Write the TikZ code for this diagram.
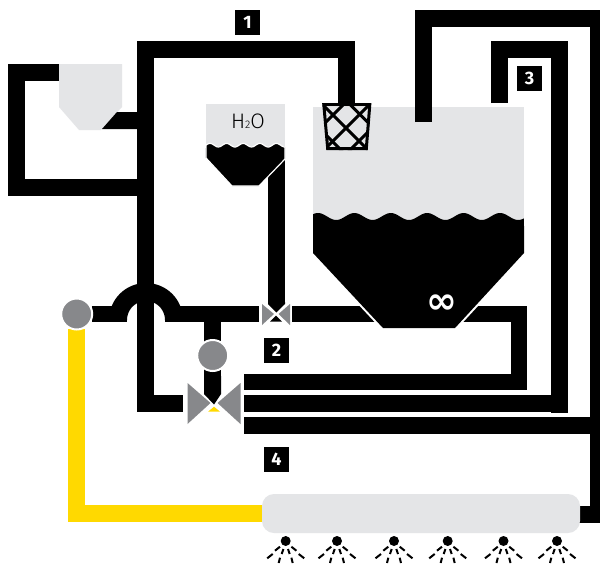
\documentclass[tikz,border=0pt]{standalone}
\usepackage{fontspec}
\setmainfont{Fira Sans}
\newfontfamily\lightfont{Fira Sans Light}
\newfontfamily\symfont{DejaVu Sans}
\definecolor{tankgrey}{HTML}{E4E5E7}
\definecolor{valvegrey}{HTML}{87888B}
\definecolor{feedyellow}{HTML}{FFD900}
\tikzset{
  pipe/.style={draw=black,line width=17pt,miter limit=10},
  thinpipe/.style={draw=black,line width=15.5pt},
  yellowpipe/.style={draw=feedyellow,line width=17pt},
  numbox/.style={fill=black,text=white,minimum size=25pt,inner sep=0pt,font=\fontsize{18}{18}\selectfont\bfseries},
  pump/.style={circle,fill=valvegrey,draw=white,line width=2pt,minimum size=31pt,inner sep=0pt},
  valvepart/.style={fill=valvegrey},
  spray/.style={line width=2pt,draw=black},
  lattice/.style={line width=3pt,draw=black}
}
\newcommand{\nozzle}[1]{%
  \fill (#1,541) circle[radius=5pt];
  \foreach \s in {-1,1}{
    \draw[spray] ({#1+\s*5.7},546.7) -- ({#1+\s*10.7},550.7);
    \draw[spray] ({#1+\s*13},554) -- ({#1+\s*18.5},558.3);
    \draw[spray] ({#1+\s*2.3},549) -- ({#1+\s*4},554);
    \draw[spray] ({#1+\s*5.7},557.7) -- ({#1+\s*7},563);
  }}
\begin{document}
\begin{tikzpicture}[x=1pt,y=-1pt]
\useasboundingbox (0,0) rectangle (600,563);
\clip (0,0) rectangle (600,563);
\fill[white] (0,0) rectangle (600,563);

% main tank, grey part
\fill[tankgrey] (313,107) rectangle (524,225);
% hopper
\fill[tankgrey] (59,64) -- (122,64) -- (122,107) -- (101,130) -- (79,130) -- (59,107) -- cycle;
% water tank, grey part
\fill[tankgrey] (206,104) rectangle (285,150);

% pipes
\draw[pipe] (59,72.5) -- (16.5,72.5) -- (16.5,187.5) -- (145.5,187.5);
\fill (117,112) -- (140,112) -- (140,129) -- (102,129) -- cycle;
\draw[pipe] (346,104) -- (346,49.5) -- (145.5,49.5) -- (145.5,403.5) -- (183,403.5);
\draw[pipe] (423.5,122) -- (423.5,18.5) -- (598.5,18.5) -- (598.5,514.5) -- (575,514.5);
\draw[pipe] (499.5,103) -- (499.5,49.5) -- (559.5,49.5) -- (559.5,412.5);
\draw[pipe] (244,403.5) -- (559,403.5);
\draw[pipe] (244,425.5) -- (600,425.5);
\draw[pipe] (276.5,150) -- (276.5,304) ;
\fill (268,302) -- (285,302) -- (285,304) -- (276.3,312.5) -- (268,304) -- cycle;
\fill (276,315.5) -- (282,321.7) -- (270,321.7) -- cycle;
\draw[thinpipe] (91.5,314) -- (127,314);
\draw[thinpipe] (165,314) -- (259,314);
\draw[thinpipe] (292,314) -- (375,314);
\draw[line width=16pt] (450,314) -- (518.5,314) -- (518.5,382) -- (244,382);
\draw[line width=18pt] plot[domain=0:180,samples=50] ({146+28*cos(\x)},{320-28*sin(\x)});
\fill[white] (100,322) rectangle (130,330);
\fill[white] (162,322) rectangle (190,330);
\fill (137,320) rectangle (154,340);

% water tank, liquid
\fill[draw=white,line width=1.2pt,fill=black] (206,158) -- plot[domain=206:285,samples=60] (\x,{145.2-1.8*cos((\x-210)/16.6*360)}) -- (285,159) -- (259,186) -- (232,186) -- cycle;
\fill[tankgrey] (205.4,147.5) rectangle (206,158);
% main tank, liquid
\draw[white,line width=4pt] (310,250) -- (383,328) -- (455,328) -- (527,250);
\fill (313,253) -- plot[domain=313:524,samples=120] (\x,{216.5-3.5*cos((\x-318)/36.4*360)}) -- (524,253) -- (455,328) -- (383,328) -- cycle;
\fill[white] (300,200) rectangle (312.9,225);
\fill[white] (524.1,200) rectangle (540,226);

% feed to the ring of the second pump
\draw[line width=17pt] (212.5,321) -- (212.5,380);
\fill (204,376) -- (221,376) -- (221,394) -- (214,404.5) -- (204,394) -- cycle;

% yellow line
\draw[yellowpipe] (76.5,329) -- (76.5,513.5) -- (265,513.5);

% spray bar
\fill[tankgrey,rounded corners=12pt] (262,494) rectangle (580,533);

% pumps
\node[pump] (pumpA) at (76.7,314) {};
\node[pump] (pumpB) at (212.7,355.5) {};

% small valve
\fill[valvepart] (262,304) -- (274,314) -- (262,325) -- cycle;
\fill[valvepart] (290,304) -- (278.5,314) -- (290,325) -- cycle;
% big valve
\fill[valvepart] (187.5,383) -- (210.5,403) -- (187.5,424) -- cycle;
\fill[valvepart] (240.5,383) -- (217.5,403) -- (240.5,424) -- cycle;
\fill[feedyellow] (208,411.7) -- (214,406.7) -- (220,411.7) -- cycle;

% basket
\begin{scope}
\clip (322.5,103) -- (371,103) -- (367.5,150) -- (326.5,150) -- cycle;
\foreach \c in {191,218,245.5}{\draw[lattice] (300,{300-\c}) -- (400,{400-\c});}
\foreach \c in {448,474,500}{\draw[lattice] (300,{\c-300}) -- (400,{\c-400});}
\end{scope}
\draw[line width=3pt,line join=miter] (323.8,104.5) -- (369.8,104.5) -- (366.3,148.7) -- (327.7,148.7) -- cycle;

% texts
\node (water) at (248,121) {\lightfont\fontsize{21}{21}\selectfont H\raisebox{-0.5pt}{\fontsize{11}{11}\selectfont 2}O};
\node[text=white,inner sep=0pt] (inf) at (441.5,304) {\symfont\bfseries\fontsize{37}{37}\selectfont ∞};
\node[numbox] (n1) at (247.5,22.5) {1};
\node[numbox] (n3) at (529.5,78.5) {3};
\node[numbox] (n2) at (276.5,350.5) {2};
\node[numbox] (n4) at (276.5,459.5) {4};

% nozzles
\nozzle{285.7}
\nozzle{337}
\nozzle{394}
\nozzle{447.7}
\nozzle{503.5}
\nozzle{557}
\end{tikzpicture}
\end{document}
